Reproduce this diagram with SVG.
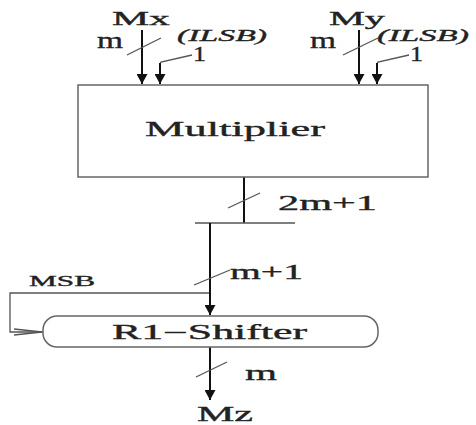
<svg xmlns="http://www.w3.org/2000/svg" width="476" height="425" viewBox="0 0 476 425">
<defs>
<marker id="ah" viewBox="0 0 10 11" refX="10" refY="5.5" markerWidth="10" markerHeight="11" markerUnits="userSpaceOnUse" orient="auto">
<path d="M0,0 L10,5.5 L0,11 Z" fill="#111"/>
</marker>
</defs>
<style>
text{font-family:"Liberation Serif","Times New Roman",serif;fill:#222;stroke:#222;stroke-width:0.35}
.w{stroke:#111;stroke-width:2;fill:none}
.t{stroke:#555;stroke-width:1.3;fill:none}
.box{stroke:#666;stroke-width:1.5;fill:#fff}
.it{font-style:italic}
</style>
<rect width="476" height="425" fill="#fff"/>
<g id="connectors">
<line class="w" x1="142" y1="30" x2="142" y2="84" marker-end="url(#ah)"/>
<line class="t" x1="127" y1="55" x2="161" y2="38"/>
<polyline class="t" points="192,55 161,62 160,64"/>
<line class="w" x1="160" y1="63" x2="160" y2="84" marker-end="url(#ah)"/>
<line class="w" x1="359" y1="30" x2="359" y2="84" marker-end="url(#ah)"/>
<line class="t" x1="343" y1="55" x2="378" y2="38"/>
<polyline class="t" points="409,55 378,62 377,64"/>
<line class="w" x1="377" y1="63" x2="377" y2="84" marker-end="url(#ah)"/>
<line class="w" x1="244" y1="177" x2="244" y2="223"/>
<line class="t" x1="228" y1="208" x2="260" y2="193"/>
<line class="t" x1="195" y1="223" x2="295" y2="223"/>
<line class="w" x1="210" y1="223" x2="210" y2="315" marker-end="url(#ah)"/>
<line class="t" x1="194" y1="285" x2="230" y2="270"/>
<polyline class="t" points="209,293 10,293 10,332 43,332"/>
<polyline class="t" points="14,329 42,332 14,335"/>
<line class="w" x1="210" y1="347" x2="210" y2="400" marker-end="url(#ah)"/>
<line class="t" x1="196" y1="377" x2="227" y2="362"/>
</g>
<g id="labels">
<text x="112" y="25" font-size="19" textLength="58" lengthAdjust="spacingAndGlyphs">Mx</text>
<text x="97" y="48" font-size="23" textLength="26" lengthAdjust="spacingAndGlyphs">m</text>
<text class="it" x="177" y="41" font-size="17" textLength="90" lengthAdjust="spacingAndGlyphs">(ILSB)</text>
<text x="193" y="61" font-size="20" textLength="13" lengthAdjust="spacingAndGlyphs">1</text>
<text x="329" y="25" font-size="19" textLength="56" lengthAdjust="spacingAndGlyphs">My</text>
<text x="310" y="48" font-size="23" textLength="26" lengthAdjust="spacingAndGlyphs">m</text>
<text class="it" x="377" y="41" font-size="17" textLength="92" lengthAdjust="spacingAndGlyphs">(ILSB)</text>
<text x="410" y="61" font-size="20" textLength="13" lengthAdjust="spacingAndGlyphs">1</text>
<text x="278" y="210" font-size="20" textLength="99" lengthAdjust="spacingAndGlyphs">2m+1</text>
<text x="230" y="279" font-size="20" textLength="73" lengthAdjust="spacingAndGlyphs">m+1</text>
<text x="29" y="286" font-size="15" textLength="66" lengthAdjust="spacingAndGlyphs">MSB</text>
<text x="245" y="380" font-size="21" textLength="32" lengthAdjust="spacingAndGlyphs">m</text>
<text x="197" y="421" font-size="20" textLength="56" lengthAdjust="spacingAndGlyphs">Mz</text>
</g>
<g id="multiplier">
<rect class="box" x="78" y="85" width="350" height="92"/>
<text x="145" y="136" font-size="22" textLength="180" lengthAdjust="spacingAndGlyphs">Multiplier</text>
</g>
<g id="r1shifter">
<rect class="box" x="43" y="316" width="335" height="31" rx="14" ry="14"/>
<text x="112" y="339" font-size="20" textLength="195" lengthAdjust="spacingAndGlyphs">R1−Shifter</text>
</g>
</svg>
